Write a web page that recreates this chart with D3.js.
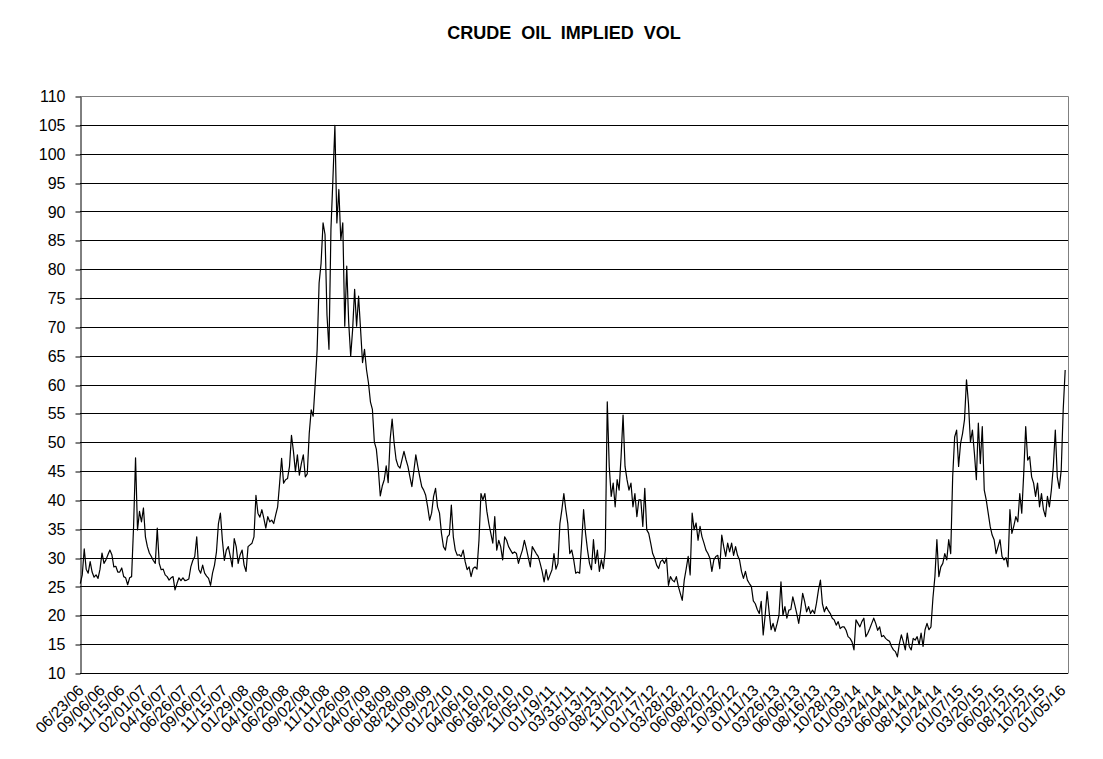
<!DOCTYPE html>
<html><head><meta charset="utf-8">
<script src="https://cdn.jsdelivr.net/npm/d3@7"></script>
<style>
body{margin:0;background:#fff;}
svg text{font-family:Arial,"Liberation Sans",sans-serif;fill:#000;}
</style></head><body>
<svg id="chart" width="1103" height="759"></svg>
<script>
const chartTitle = "CRUDE OIL IMPLIED VOL";
const seriesStart = "2006-06-23";   // first weekly observation
const axisStart = "2006-06-22";
const axisEnd = "2016-01-25";
const yTickValues = [10,15,20,25,30,35,40,45,50,55,60,65,70,75,80,85,90,95,100,105,110];
const xTickLabels = ["06/23/06","09/06/06","11/15/06","02/01/07","04/16/07","06/26/07","09/06/07","11/15/07",
 "01/29/08","04/10/08","06/20/08","09/02/08","11/11/08","01/26/09","04/07/09","06/18/09","08/28/09","11/09/09",
 "01/22/10","04/06/10","06/16/10","08/26/10","11/05/10","01/19/11","03/31/11","06/13/11","08/23/11","11/02/11",
 "01/17/12","03/28/12","06/08/12","08/20/12","10/30/12","01/11/13","03/26/13","06/06/13","08/16/13","10/28/13",
 "01/09/14","03/24/14","06/04/14","08/14/14","10/24/14","01/07/15","03/20/15","06/02/15","08/12/15","10/22/15","01/05/16"];
// weekly implied vol readings
const impliedVol = [
25.5,27,31.5,28,27.3,29.3,27.5,26.6,27,26.4,
28,30.8,29,29.6,30.5,31.3,30.5,28.4,28.5,27.5,
27.5,28.2,26.7,26.5,25.3,26.5,26.7,35.4,47.3,34.8,
38,36.2,38.6,33.6,31.9,30.8,30.2,29.5,29,35.1,
29,27.9,28,27,26.7,26.1,26.5,26.7,24.4,25.5,
26.5,26,26.5,26,26.1,26.3,28.4,29.5,30.2,33.6,
28,27.3,28.7,27.3,26.8,26.4,25.2,27.3,28.7,31,
35.9,37.7,33,29.5,31.3,31.9,30.2,28.4,33.3,31.9,
29,30.5,31.3,28.7,27.6,31.9,32.2,32.5,33.6,40.8,
37.7,37,38.3,36.8,35.1,37.1,36.2,36.5,35.9,37.4,
38.8,42.9,47.2,42.9,43.5,43.7,45.8,51.2,48.4,44.9,
47.8,44.3,46.3,47.8,44,44.5,51.5,55.6,54.5,60,
66,77.6,81,88,86,72,66.1,86.9,95.6,104.9,
88,93.8,85,88,70.1,80.5,70.7,64.9,69.6,76.5,
70.1,75.3,69.6,63.8,66.1,62.6,60.3,57,55.7,50,
48.8,45.3,40.7,42.4,43.5,45.9,43,50.5,54,49.9,
47,45.9,45.5,47,48.4,47,45.8,44,42.3,45,
47.8,45.8,44,42.3,41.7,40.8,38.8,36.5,37.7,40.6,
42,38.8,37.7,34.2,31.9,31.3,33.6,34,39.1,33.6,
31.3,30.4,30.5,30.2,31.3,29.3,27.9,28.4,26.7,28.1,
28.4,28,33,41.1,40,41.1,38,35.9,34.2,32.5,
37.1,31.3,33,31.9,29.6,33.6,33,31.9,31.3,30.7,
31,30.7,29,30.2,31.3,33,31.6,30,28.4,31.9,
31.3,30.7,30.2,29,27.6,25.8,27.9,26.1,27,27.9,
30.7,28,29,35.9,38.3,41.1,38.3,35.9,30.7,31.3,
29.6,27.3,27.5,27.3,32.5,38.3,34.2,31.3,29,27.9,
33.1,29,31.3,27.6,29.6,28.1,31.3,57,45.8,40.6,
42.9,38.8,43.5,41.7,47.5,54.7,45.8,43.5,41.7,42.9,
38.8,41.1,37.1,40,40,35.4,42,34.8,34.2,32.5,
30.7,29.9,28.7,28.1,29.3,29.6,29,29.9,25.2,26.7,
26.1,25.8,26.7,25,23.8,22.6,26.1,28.1,30.2,27,
37.7,34.8,36,33,35.4,33.6,32.5,31.3,30.7,29.9,
27.6,29.6,30.2,30.4,28.1,33.9,31.9,30.2,32.5,31,
32.5,30.4,31.9,30.4,29.6,27.6,26.4,27.6,26.1,25.5,
25,22.5,22,21,20.3,22.4,16.6,20,24.1,20.6,
17.5,18.6,17.2,18.5,20,25.8,20,21.5,19.5,20.9,
21,23.2,21.8,20.3,18.6,20.9,23.8,22.4,20.6,21.5,
20.3,20.9,20.3,22.1,24.4,26.1,22,20.6,21.5,20.8,
20.3,19.5,19.2,18.3,18.9,17.7,18,18,17.4,16.3,
16,15.4,14,19.2,18.6,18,18.9,19.5,16.3,16.9,
17.7,18.6,19.5,18.6,17.4,18,16.3,16.5,16,15.7,
15.5,14.6,14,13.7,12.8,15.1,16.6,15.4,14,16.9,
14.6,14,16,15.7,16.3,14.9,16.9,14.6,17.5,18.6,
17.5,18,23,26.7,33.1,26.7,28.4,29,30.7,29.6,
33.1,30.7,44,50.9,52.1,45.8,49.8,51.5,53.9,60.8,
56.7,50,52.1,48.1,43.5,53.3,46.3,52.7,41.7,40,
37.7,35.4,33.9,33.1,30.7,31.9,33.1,30.2,29.6,30,
28.4,38.3,34.2,35.5,37.1,36.2,41.1,37.7,44.6,52.7,
46.9,47.5,44,42.9,40.6,42.9,38.8,41.1,38.3,37.1,
40.6,38.8,41.7,45.8,52.1,44,42,45.2,55.6,62.5];

const parseISO = d3.timeParse("%Y-%m-%d");
const parseTick = d3.timeParse("%m/%d/%y");
const fmtTick = d3.timeFormat("%m/%d/%y");
const start = parseISO(seriesStart);
const data = impliedVol.map((v,i)=>({date:d3.timeDay.offset(start, 7*i), value:v}));

const svg = d3.select("#chart");
const L = 80, R = 1068, T = 96, B = 673;
const x = d3.scaleTime().domain([parseISO(axisStart), parseISO(axisEnd)]).range([L, R]);
const y = d3.scaleLinear().domain([10, 110]).range([B, T]);
const cy = v => Math.round(y(v)) + 0.5;

// title
svg.append("text").attr("x", 564).attr("y", 39).attr("text-anchor","middle")
  .style("font-weight","bold").style("font-size","18px").style("word-spacing","5px")
  .text(chartTitle);

// gridlines
svg.append("g").selectAll("line").data(yTickValues.filter(v => v > 10 && v < 110)).join("line")
  .attr("x1", L).attr("x2", R).attr("y1", cy).attr("y2", cy)
  .attr("stroke", "#000").attr("stroke-width", 1);

// plot border (top/right grey)
svg.append("path").attr("d", `M${L},${cy(110)}H${R+0.5}V${cy(10)}`)
  .attr("fill","none").attr("stroke","#808080").attr("stroke-width",1);

// line
const line = d3.line().x(d => x(d.date)).y(d => y(d.value));
svg.append("path").datum(data).attr("d", line)
  .attr("fill","none").attr("stroke","#000").attr("stroke-width",1.2).attr("stroke-linejoin","round");

// y axis
const yAxis = svg.append("g").attr("transform", `translate(${L+0.5},0.5)`)
  .call(d3.axisLeft(y).tickValues(yTickValues).tickSize(5).tickPadding(10).tickSizeOuter(0));
yAxis.selectAll("text").style("font-size","16px");
yAxis.selectAll("line,path").attr("stroke","#000");
yAxis.selectAll(".tick line").attr("transform", d => `translate(0,${Math.round(y(d)) - y(d)})`);

// x axis
const xAxis = svg.append("g").attr("transform", `translate(0,${cy(10)})`)
  .call(d3.axisBottom(x).tickValues(xTickLabels.map(parseTick)).tickFormat(fmtTick).tickSize(0).tickSizeOuter(0));
xAxis.select(".domain").attr("stroke","#000").attr("d", `M${L},0H${R}`);
xAxis.selectAll("text").style("font-size","15.5px")
  .attr("x", 0).attr("y", 0).attr("dy", "0.35em")
  .attr("transform", "translate(0,14) rotate(-45)")
  .style("text-anchor","end");
</script>
</body></html>
